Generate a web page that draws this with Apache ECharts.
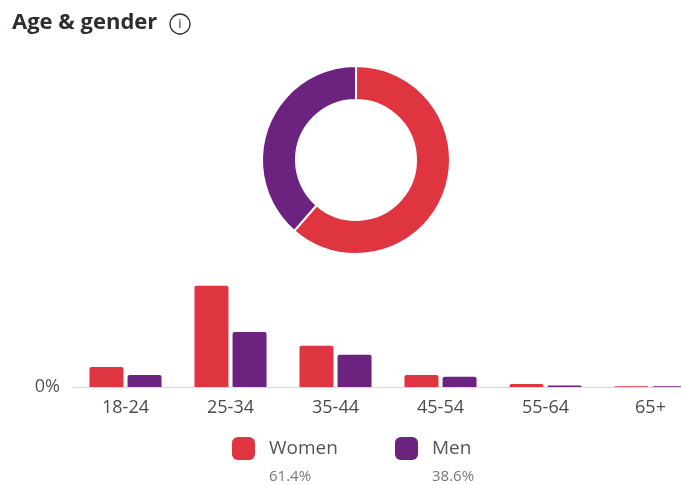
<!DOCTYPE html>
<html>
<head>
<meta charset="utf-8">
<script src="https://cdn.jsdelivr.net/npm/echarts@6/dist/echarts.min.js"></script>
<style>
  html, body { margin: 0; padding: 0; background: #fff; }
  #chart { width: 681px; height: 485px; }
</style>
</head>
<body>
<div id="chart"></div>
<script>
// age groups and share of audience (%) per gender
const ageGroups = ['18-24', '25-34', '35-44', '45-54', '55-64', '65+'];
const women = [6.9, 34.9, 14.2, 4.1, 1.0, 0.3];
const men = [4.1, 19.0, 11.1, 3.5, 0.5, 0.3];
const genders = ['Women', 'Men'];
const genderShare = [61.4, 38.6];
const colors = ['#df3540', '#6c2380'];

const chart = echarts.init(document.getElementById('chart'));

const font = 'Open Sans, Noto Sans, sans-serif';

// one legend per gender so each can sit where the reference puts it
const legendAt = [232, 395];
const legends = genders.map((g, i) => ({
  data: [g],
  left: legendAt[i],
  top: 437,
  padding: 0,
  itemWidth: 23,
  itemHeight: 23,
  icon: 'roundRect',
  selectedMode: false,
  textStyle: { fontFamily: font, fontSize: 19, color: '#555', padding: [0, 0, 0, 9] }
}));

const shareLabels = genders.map((g, i) => ({
  type: 'text',
  x: legendAt[i] + 37,
  y: 469,
  style: { text: genderShare[i] + '%', fontFamily: font, fontSize: 15, fill: '#777' }
}));

const option = {
  animation: false,
  color: colors,
  title: {
    text: 'Age & gender',
    left: 7,
    top: 7,
    textStyle: { fontFamily: font, fontSize: 22, fontWeight: 'bold', color: '#2b2f33' }
  },
  legend: legends,
  grid: { left: 73, width: 630, top: 271, height: 116, outerBoundsMode: 'none', containLabel: false },
  xAxis: {
    type: 'category',
    data: ageGroups,
    axisLine: { lineStyle: { color: '#d9d9d9', width: 1 } },
    axisTick: { show: false },
    axisLabel: { fontFamily: font, fontSize: 18, color: '#4a4a4a', margin: 12 }
  },
  yAxis: {
    type: 'value',
    min: 0,
    max: 40,
    interval: 40,
    splitLine: { show: false },
    axisLabel: {
      fontFamily: font, fontSize: 18, color: '#555', margin: 13,
      formatter: v => (v === 0 ? '0%' : '')
    }
  },
  series: [
    {
      name: genders[0],
      type: 'bar',
      data: women,
      barWidth: 34,
      barGap: '12%',
      itemStyle: { color: colors[0], borderRadius: [2, 2, 0, 0] }
    },
    {
      name: genders[1],
      type: 'bar',
      data: men,
      barWidth: 34,
      itemStyle: { color: colors[1], borderRadius: [2, 2, 0, 0] }
    },
    {
      type: 'pie',
      center: [356, 160],
      radius: [60, 94],
      startAngle: 90,
      label: { show: false },
      labelLine: { show: false },
      silent: true,
      itemStyle: { borderColor: '#fff', borderWidth: 2 },
      data: genders.map((g, i) => ({ name: g, value: genderShare[i], itemStyle: { color: colors[i] } }))
    }
  ],
  graphic: [
    {
      type: 'circle',
      shape: { cx: 180, cy: 24, r: 10 },
      style: { fill: 'none', stroke: '#333', lineWidth: 1.3 }
    },
    {
      type: 'text',
      x: 180, y: 24,
      style: { text: 'i', fontFamily: font, fontSize: 13, fill: '#333', align: 'center', verticalAlign: 'middle' }
    }
  ].concat(shareLabels)
};

chart.setOption(option);
</script>
</body>
</html>
